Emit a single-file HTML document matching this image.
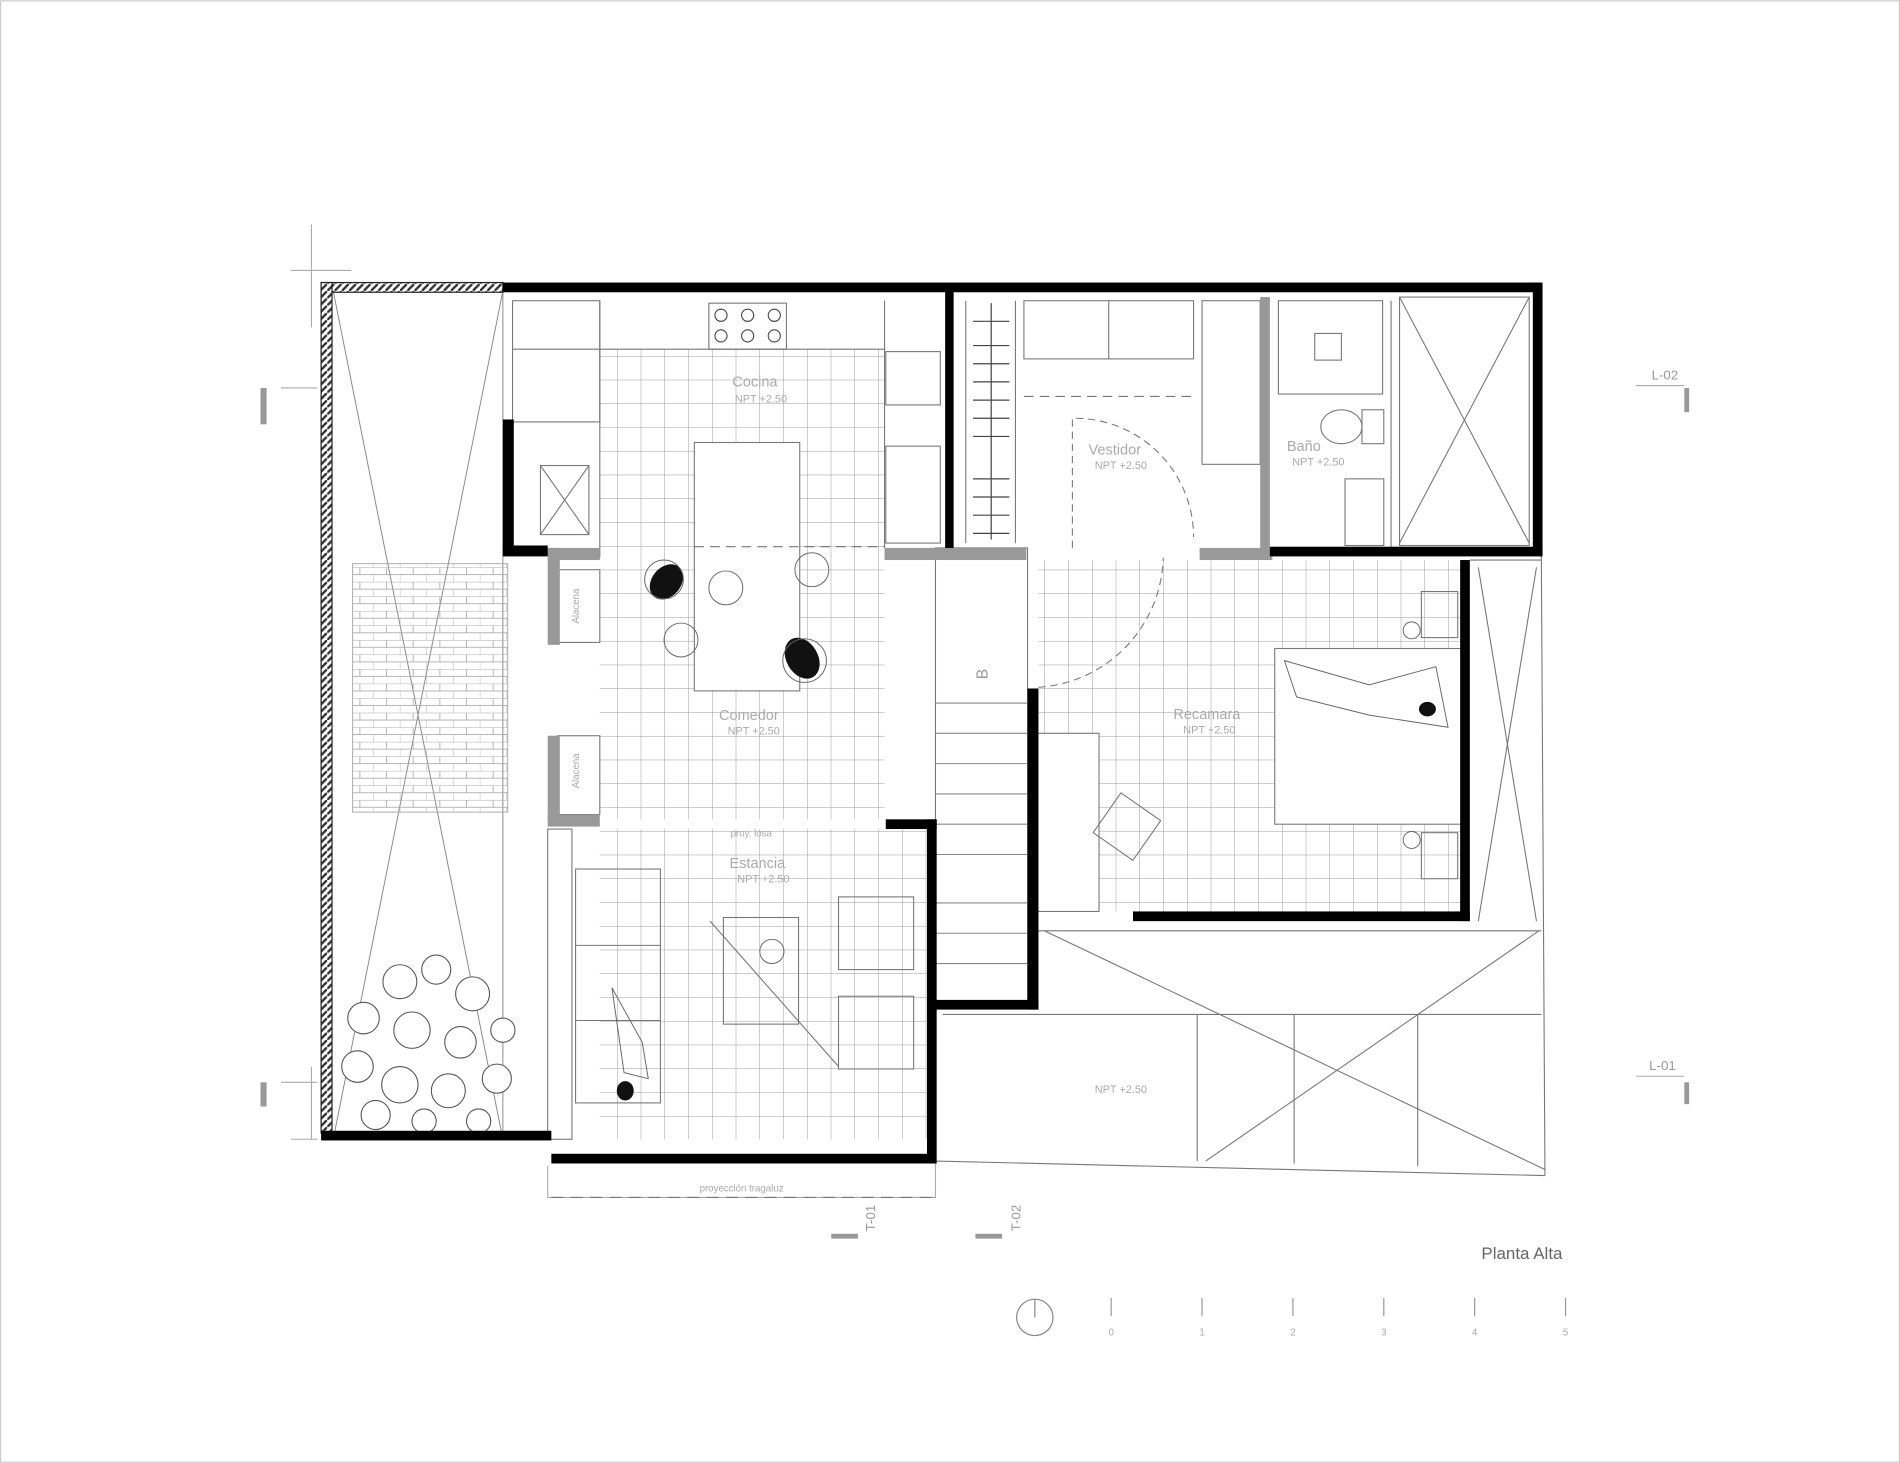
<!DOCTYPE html>
<html><head><meta charset="utf-8"><style>
html,body{margin:0;padding:0;background:#fff;}
svg{display:block;}
text{font-family:"Liberation Sans",sans-serif;}
</style></head><body>
<svg width="1900" height="1463" viewBox="0 0 1568 1207" xmlns="http://www.w3.org/2000/svg">
<defs>
<pattern id="g" width="19.6" height="19.6" patternUnits="userSpaceOnUse"><path d="M19.6 0V19.6H0" fill="none" stroke="#999" stroke-width="0.8"/></pattern>
<pattern id="br" width="22" height="12" patternUnits="userSpaceOnUse"><path d="M0 0H22M0 6H22M11 0V6M0 6V12" fill="none" stroke="#aaa" stroke-width="0.7"/></pattern>
<pattern id="hz" width="6" height="6" patternUnits="userSpaceOnUse"><rect width="6" height="6" fill="#fff"/><path d="M0 6L6 0" stroke="#333" stroke-width="2"/></pattern>
</defs>
<rect width="1568" height="1207" fill="#fff"/>
<rect x="0.5" y="0.5" width="1567" height="1206" fill="none" stroke="#ccc"/>

<rect x="495" y="288" width="235" height="388" fill="url(#g)"/>
<rect x="495" y="684" width="270" height="256" fill="url(#g)"/>
<rect x="857" y="462" width="348" height="290" fill="url(#g)"/>

<g stroke="#888" stroke-width="0.8" fill="none">
<line x1="275" y1="240" x2="415" y2="940"/><line x1="415" y1="240" x2="275" y2="940"/>
<line x1="275" y1="240" x2="415" y2="240"/>
<line x1="415" y1="240" x2="415" y2="940"/>
</g>
<rect x="291" y="465" width="128" height="205" fill="url(#br)" stroke="#aaa" stroke-width="0.8"/>
<g fill="#fff" stroke="#555" stroke-width="0.9">
<circle cx="330" cy="810" r="14"/><circle cx="360" cy="800" r="12"/><circle cx="390" cy="820" r="14"/>
<circle cx="300" cy="840" r="13"/><circle cx="340" cy="850" r="15"/><circle cx="380" cy="860" r="13"/>
<circle cx="295" cy="880" r="13"/><circle cx="330" cy="895" r="15"/><circle cx="370" cy="900" r="14"/>
<circle cx="410" cy="890" r="12"/><circle cx="310" cy="920" r="12"/><circle cx="395" cy="925" r="10"/>
<circle cx="350" cy="925" r="10"/><circle cx="415" cy="850" r="10"/>
</g>
<rect x="265" y="233" width="150" height="8" fill="url(#hz)" stroke="#222" stroke-width="1"/>
<rect x="265" y="233" width="9" height="702" fill="url(#hz)" stroke="#222" stroke-width="1"/>

<g stroke="#777" stroke-width="0.9" fill="none">
<rect x="423" y="248" width="72" height="100"/>
<line x1="495" y1="248" x2="495" y2="460"/><line x1="423" y1="288" x2="730" y2="288"/>
<line x1="730" y1="248" x2="730" y2="452"/>
<rect x="585" y="250" width="64" height="38"/>
<rect x="446" y="384" width="40" height="57"/><line x1="446" y1="384" x2="486" y2="441"/><line x1="486" y1="384" x2="446" y2="441"/>
<rect x="573" y="365" width="87" height="205" fill="#fff"/>
<line x1="573" y1="451" x2="730" y2="451" stroke-dasharray="8,5"/>
<rect x="731" y="290" width="45" height="44"/><rect x="731" y="368" width="45" height="80"/>
<rect x="460" y="470" width="35" height="60" fill="#fff"/><rect x="460" y="607" width="35" height="65" fill="#fff"/>
<rect x="452" y="684" width="20" height="256"/>
<rect x="475" y="717" width="70" height="193"/><line x1="475" y1="780" x2="545" y2="780"/><line x1="475" y1="842" x2="545" y2="842"/>
<rect x="597" y="757" width="62" height="88"/>
<rect x="692" y="740" width="62" height="60"/><rect x="692" y="822" width="62" height="60"/>
<line x1="586" y1="760" x2="692" y2="880"/>
<rect x="772" y="452" width="76" height="380"/>
<g stroke="#888"><line x1="772" y1="580" x2="848" y2="580"/><line x1="772" y1="605" x2="848" y2="605"/><line x1="772" y1="630" x2="848" y2="630"/><line x1="772" y1="655" x2="848" y2="655"/><line x1="772" y1="680" x2="848" y2="680"/><line x1="772" y1="705" x2="848" y2="705"/><line x1="772" y1="745" x2="848" y2="745"/><line x1="772" y1="770" x2="848" y2="770"/><line x1="772" y1="795" x2="848" y2="795"/></g>
<line x1="797" y1="248" x2="797" y2="448"/><line x1="838" y1="248" x2="838" y2="448"/>
<rect x="845" y="248" width="140" height="48"/><line x1="915" y1="248" x2="915" y2="296"/>
<line x1="845" y1="327" x2="985" y2="327" stroke-dasharray="8,5"/>
<path d="M885 452V345A98 98 0 0 1 985 443" stroke-dasharray="6,4"/>
<path d="M857 567A110 110 0 0 0 960 460" stroke-dasharray="6,4"/>
<rect x="992" y="248" width="48" height="135"/>
<rect x="1055" y="248" width="86" height="77"/><rect x="1085" y="275" width="22" height="22"/>
<ellipse cx="1107" cy="352" rx="17" ry="14"/><rect x="1124" y="338" width="18" height="28"/>
<rect x="1110" y="395" width="32" height="55"/>
<line x1="1148" y1="248" x2="1148" y2="452"/>
<line x1="1155" y1="245" x2="1262" y2="448"/><line x1="1262" y1="245" x2="1155" y2="448"/>
<rect x="1155" y="245" width="107" height="205"/>
<rect x="1052" y="535" width="155" height="145" fill="#fff"/>
<rect x="1173" y="488" width="30" height="38"/><rect x="1173" y="687" width="30" height="38"/>
<rect x="855" y="605" width="52" height="147" fill="#fff"/>
<rect x="910" y="662" width="40" height="40" transform="rotate(35 930 682)"/>
<line x1="1213" y1="462" x2="1272" y2="462"/><line x1="1272" y1="458" x2="1275" y2="970"/>
<line x1="1220" y1="468" x2="1268" y2="760"/><line x1="1268" y1="468" x2="1220" y2="760"/>
<line x1="772" y1="958" x2="1275" y2="970"/>
<line x1="857" y1="768" x2="1272" y2="768"/>
<line x1="862" y1="768" x2="1275" y2="965"/><line x1="1270" y1="768" x2="995" y2="958"/>
<line x1="778" y1="837" x2="1272" y2="837"/>
<line x1="988" y1="837" x2="988" y2="958"/><line x1="1068" y1="837" x2="1068" y2="960"/><line x1="1170" y1="837" x2="1170" y2="962"/>
<path d="M452 962V988H772V960" stroke="#aaa"/>
<line x1="455" y1="988" x2="772" y2="988" stroke-dasharray="10,6"/>
<line x1="240" y1="223" x2="290" y2="223" stroke="#aaa"/><line x1="257" y1="185" x2="257" y2="270" stroke="#aaa"/>
<line x1="232" y1="320" x2="262" y2="320" stroke="#aaa"/><line x1="1350" y1="318" x2="1390" y2="318" stroke="#aaa"/>
<line x1="1350" y1="888" x2="1390" y2="888" stroke="#aaa"/><line x1="232" y1="893" x2="262" y2="893" stroke="#aaa"/>
<line x1="240" y1="940" x2="262" y2="940" stroke="#aaa"/><line x1="257" y1="880" x2="257" y2="940" stroke="#aaa"/>
</g>
<g fill="none" stroke="#444" stroke-width="0.9">
<circle cx="595" cy="260" r="5"/><circle cx="617" cy="260" r="5"/><circle cx="639" cy="260" r="5"/>
<circle cx="595" cy="277" r="5"/><circle cx="617" cy="277" r="5"/><circle cx="639" cy="277" r="5"/>
</g>
<g stroke="#444" stroke-width="1" fill="none">
<path d="M803 265h30M803 285h30M803 300h30M803 315h30M803 330h30M803 345h30M803 360h30M803 395h30M803 410h30M803 425h30M803 440h30"/>
<line x1="818" y1="250" x2="818" y2="445"/>
</g>
<g fill="#999">
<rect x="452" y="452" width="43" height="10"/><rect x="452" y="452" width="10" height="80"/>
<rect x="452" y="607" width="10" height="72"/><rect x="452" y="672" width="43" height="10"/>
<rect x="730" y="452" width="117" height="10"/><rect x="990" y="452" width="60" height="10"/>
<rect x="1040" y="245" width="8" height="210"/>
</g>
<g fill="#000">
<rect x="415" y="233" width="857" height="8"/>
<rect x="1265" y="233" width="8" height="225"/>
<rect x="1048" y="451" width="225" height="8"/>
<rect x="415" y="346" width="9" height="112"/>
<rect x="415" y="450" width="37" height="9"/>
<rect x="780" y="240" width="7" height="212"/>
<rect x="265" y="933" width="190" height="8"/>
<rect x="455" y="952" width="317" height="8"/>
<rect x="765" y="676" width="8" height="284"/>
<rect x="731" y="676" width="42" height="8"/>
<rect x="848" y="568" width="9" height="265"/>
<rect x="772" y="825" width="85" height="8"/>
<rect x="1205" y="462" width="8" height="298"/>
<rect x="935" y="752" width="278" height="8"/>
</g>
<g fill="#111">
<ellipse cx="550" cy="480" rx="12" ry="16" transform="rotate(40 550 480)"/>
<ellipse cx="662" cy="543" rx="13" ry="18" transform="rotate(-30 662 543)"/>
<ellipse cx="516" cy="900" rx="7" ry="8"/>
<ellipse cx="1178" cy="585" rx="7" ry="6"/>
</g>
<g fill="none" stroke="#666" stroke-width="0.8">
<circle cx="548" cy="478" r="16"/><circle cx="562" cy="528" r="14"/><circle cx="670" cy="470" r="14"/><circle cx="664" cy="545" r="18"/>
<circle cx="599" cy="485" r="14"/><circle cx="637" cy="785" r="10"/>
<path d="M505 815L515 885L535 890L530 860Z"/>
<path d="M1060 545L1130 565L1185 550L1195 600L1130 590L1070 575Z"/>
<circle cx="1165" cy="520" r="7"/><circle cx="1165" cy="693" r="7"/>
</g>
<g fill="#aaa" font-size="11" text-anchor="middle">
<text x="623" y="319" font-size="12">Cocina</text><text x="628" y="332" font-size="9">NPT +2.50</text>
<text x="618" y="594" font-size="12">Comedor</text><text x="622" y="606" font-size="9">NPT +2.50</text>
<text x="625" y="716" font-size="12">Estancia</text><text x="630" y="728" font-size="9">NPT +2.50</text>
<text x="920" y="375" font-size="12">Vestidor</text><text x="925" y="387" font-size="9">NPT +2.50</text>
<text x="1076" y="372" font-size="12">Baño</text><text x="1088" y="384" font-size="9">NPT +2.50</text>
<text x="996" y="593" font-size="12">Recamara</text><text x="998" y="605" font-size="9">NPT +2.50</text>
<text x="925" y="902" font-size="9">NPT +2.50</text>
<text x="620" y="690" font-size="8">proy. losa</text>
<text x="612" y="983" font-size="8">proyección tragaluz</text>
<text x="478" y="500" font-size="8" transform="rotate(-90 478 500)">Alacena</text>
<text x="478" y="636" font-size="8" transform="rotate(-90 478 636)">Alacena</text>
<text x="815" y="556" font-size="13" fill="#999" transform="rotate(-90 815 556)">B</text>
</g>
<g fill="#999" font-size="11" text-anchor="middle">
<text x="1374" y="313">L-02</text><text x="1372" y="883">L-01</text>
<text x="722" y="1005" transform="rotate(-90 722 1005)">T-01</text>
<text x="842" y="1005" transform="rotate(-90 842 1005)">T-02</text>
</g>
<g fill="#999"><rect x="215" y="320" width="5" height="30"/><rect x="1390" y="320" width="4" height="20"/><rect x="1390" y="893" width="4" height="18"/><rect x="215" y="893" width="5" height="20"/>
<rect x="686" y="1018" width="22" height="4"/><rect x="805" y="1018" width="22" height="4"/></g>
<text x="1256" y="1039" font-size="14" fill="#666" text-anchor="middle">Planta Alta</text>
<circle cx="854" cy="1087" r="15" fill="none" stroke="#888"/><line x1="854" y1="1072" x2="854" y2="1087" stroke="#888"/>
<g stroke="#999"><line x1="917" y1="1071" x2="917" y2="1086"/><line x1="992" y1="1071" x2="992" y2="1086"/><line x1="1067" y1="1071" x2="1067" y2="1086"/><line x1="1142" y1="1071" x2="1142" y2="1086"/><line x1="1217" y1="1071" x2="1217" y2="1086"/><line x1="1292" y1="1071" x2="1292" y2="1086"/></g>
<g fill="#aaa" font-size="8" text-anchor="middle"><text x="917" y="1102">0</text><text x="992" y="1102">1</text><text x="1067" y="1102">2</text><text x="1142" y="1102">3</text><text x="1217" y="1102">4</text><text x="1292" y="1102">5</text></g>
</svg>
</body></html>
